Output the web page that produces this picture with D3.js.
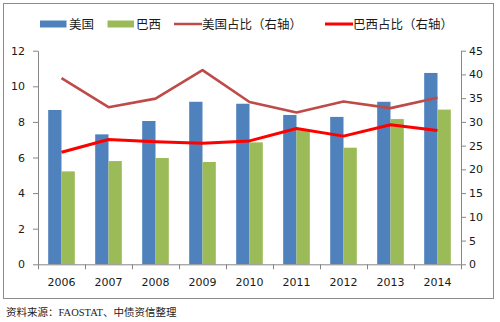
<!DOCTYPE html>
<html><head><meta charset="utf-8">
<script src="https://cdn.jsdelivr.net/npm/d3@7"></script>
<style>
html,body{margin:0;padding:0;background:#fff;}
svg{display:block;}
</style>
</head><body>
<svg id="c" width="500" height="322"></svg>
<script>
const years = ["2006","2007","2008","2009","2010","2011","2012","2013","2014"];
const usValues = [8.67, 7.30, 8.05, 9.13, 9.02, 8.39, 8.28, 9.13, 10.75];
const brValues = [5.22, 5.80, 5.97, 5.75, 6.85, 7.54, 6.55, 8.16, 8.69];
const usShare = [39.2, 33.1, 34.9, 40.9, 34.2, 32.0, 34.3, 32.9, 35.1];
const brShare = [23.6, 26.3, 25.8, 25.5, 26.0, 28.6, 27.0, 29.4, 28.2];
const leftTicks = [0, 2, 4, 6, 8, 10, 12];
const rightTicks = [0, 5, 10, 15, 20, 25, 30, 35, 40, 45];
const legendLabels = ["美国", "巴西", "美国占比（右轴）", "巴西占比（右轴）"];
const sourceText = "资料来源：FAOSTAT、中债资信整理";

const C = {us:"#4F81BD", br:"#9BBB59", usLine:"#BE4B48", brLine:"#FF0000", axis:"#868686", text:"#1a1a1a"};
const svg = d3.select("#c");
const L = 38, R = 461, T = 50.7, B = 264.3;
const numFont = "'DejaVu Sans', Verdana, sans-serif";
const cjkFont = "'Noto Sans CJK SC', 'Noto Sans', sans-serif";

// outer frame
svg.append("rect").attr("x",3.5).attr("y",3.5).attr("width",490).attr("height",295)
  .attr("fill","none").attr("stroke","#8c8c8c").attr("stroke-width",1);

const x0 = d3.scaleBand().domain(years).range([L, R]).paddingInner(0).paddingOuter(0);
const x1 = d3.scaleBand().domain(["us","br"]).range([0, x0.bandwidth()]).paddingInner(0).paddingOuter(0.765);
const yL = d3.scaleLinear().domain([0, 12]).range([B, T]);
const yR = d3.scaleLinear().domain([0, 45]).range([B, T]);

// bars
const g = svg.append("g");
const rows = years.map((y,i)=>({year:y, us:usValues[i], br:brValues[i]}));
g.selectAll("g.grp").data(rows).join("g").attr("class","grp")
  .attr("transform", d=>`translate(${x0(d.year)},0)`)
  .selectAll("rect").data(d=>[{k:"us",v:d.us},{k:"br",v:d.br}]).join("rect")
  .attr("x", d=>x1(d.k)).attr("width", x1.bandwidth())
  .attr("y", d=>yL(d.v)).attr("height", d=>B - yL(d.v))
  .attr("fill", d=>C[d.k]);

// axes
const axL = svg.append("g").attr("transform",`translate(${L},0)`)
  .call(d3.axisLeft(yL).tickValues(leftTicks).tickSize(5).tickPadding(8).tickSizeOuter(0));
const axR = svg.append("g").attr("transform",`translate(${R},0)`)
  .call(d3.axisRight(yR).tickValues(rightTicks).tickSize(5).tickPadding(3).tickSizeOuter(0));
const xb = d3.scaleLinear().domain([0, years.length]).range([L, R]);
const axXT = svg.append("g").attr("transform",`translate(0,${B})`)
  .call(d3.axisBottom(xb).tickValues(d3.range(years.length+1)).tickFormat("").tickSize(5).tickSizeOuter(0));
const axX = svg.append("g").attr("transform",`translate(0,${B})`)
  .call(d3.axisBottom(x0).tickSize(0).tickPadding(14).tickSizeOuter(0));
axX.select(".domain").remove();
[axL, axR, axXT, axX].forEach(a=>{
  a.selectAll(".domain").attr("stroke", C.axis);
  a.selectAll(".tick line").attr("stroke", C.axis);
  a.selectAll("text").attr("font-family", numFont).attr("font-size", 11).attr("fill", C.text);
});

// lines
const line = d3.line().x((d,i)=>x0(years[i]) + x0.bandwidth()/2).y(d=>yR(d));
svg.append("path").datum(usShare).attr("d", line).attr("fill","none")
  .attr("stroke", C.usLine).attr("stroke-width", 2.6).attr("stroke-linejoin","round");
svg.append("path").datum(brShare).attr("d", line).attr("fill","none")
  .attr("stroke", C.brLine).attr("stroke-width", 3).attr("stroke-linejoin","round");

// legend
const lg = svg.append("g");
const ly = 24;
const items = [
  {type:"rect", color:C.us, sx:40, tx:69},
  {type:"rect", color:C.br, sx:107.5, tx:136},
  {type:"line", color:C.usLine, sx:174, tx:202},
  {type:"line", color:C.brLine, sx:325, tx:353}
];
items.forEach((it,i)=>{
  if (it.type==="rect") {
    lg.append("rect").attr("x",it.sx).attr("y",ly-3.5).attr("width",26.5).attr("height",7).attr("fill",it.color);
  } else {
    lg.append("line").attr("x1",it.sx).attr("x2",it.sx+28).attr("y1",ly).attr("y2",ly)
      .attr("stroke",it.color).attr("stroke-width", i===2 ? 2.5 : 3);
  }
  lg.append("text").attr("x",it.tx).attr("y",ly).attr("dy","0.36em")
    .attr("font-family",cjkFont).attr("font-size",12.5).attr("fill",C.text).text(legendLabels[i]);
});

// source
svg.append("text").attr("x",6).attr("y",312).attr("dy","0.35em")
  .attr("font-family","'Liberation Serif', 'Noto Sans CJK SC', serif").attr("font-size",10.5)
  .attr("fill","#222").text(sourceText);
</script>
</body></html>
